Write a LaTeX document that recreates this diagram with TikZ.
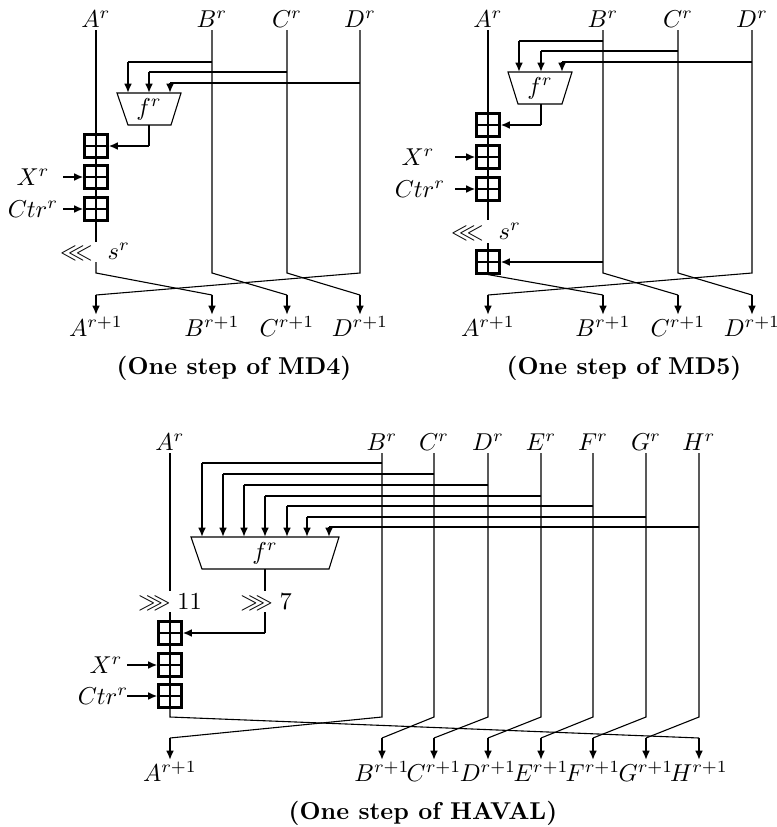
\documentclass[tikz,border=0pt]{standalone}
\usepackage{amssymb}
\usetikzlibrary{arrows.meta}
\begin{document}
\begin{tikzpicture}[x=0.41pt,y=-0.41pt,
 wire/.style={line width=0.45pt},
 arr/.style={line width=1pt,-{Latex[length=3.8pt,width=3.2pt]}},
 addbox/.style={draw,line width=1.1pt,fill=white,minimum size=9.2pt,inner sep=0pt,
   path picture={\draw[line width=0.45pt] (path picture bounding box.north)--(path picture bounding box.south) (path picture bounding box.west)--(path picture bounding box.east);}},
 toplbl/.style={anchor=south,inner sep=1pt},
 botlbl/.style={anchor=north,inner sep=0.5pt},
 captext/.style={font=\bfseries},
]
\useasboundingbox (0,0) rectangle (777,827);

% ================= MD4 =================
\foreach \n/\x in {A/96,B/212,C/287,D/360} {
  \node[toplbl] (m4\n) at (\x,30) {$\n^r$};
  \node[botlbl] (m4\n1) at (\x,315) {$\n^{r+1}$};
}
\node[addbox] (m4p1) at (96,146) {};
\node[addbox] (m4p2) at (96,177) {};
\node[addbox] (m4p3) at (96,209) {};
\node (m4X) at (33,177) {$X^r$};
\node (m4K) at (33,209) {$Ctr^r$};
\node (m4rot) at (95,252) {$\lll\ s^r$};
\draw[wire] (117,93) -- (181,93) -- (171,125) -- (128,125) -- cycle;
\node (m4f) at (149,109) {$f^r$};
\coordinate (m4fo) at (149,125);
% taps
\draw[wire] (212,62) -- (128,62); \draw[arr] (128,62) -- (128,93);
\draw[wire] (287,72) -- (149,72); \draw[arr] (149,72) -- (149,93);
\draw[wire] (360,83) -- (170,83); \draw[arr] (170,83) -- (170,93);
\draw[wire] (m4fo) -- (149,146); \draw[arr] (149,146) -- (m4p1.east);
\draw[arr] (63,177) -- (m4p2.west);
\draw[arr] (63,209) -- (m4p3.west);
% A path
\draw[wire] (m4A.south) -- (m4p1.north);
\draw[wire] (m4p1.south) -- (m4p2.north);
\draw[wire] (m4p2.south) -- (m4p3.north);
\draw[wire] (m4p3.south) -- (96,242);
\draw[wire] (96,262) -- (96,273) -- (212,295); \draw[arr] (212,295) -- (m4B1.north);
\draw[wire] (m4B.south) -- (212,273) -- (287,295); \draw[arr] (287,295) -- (m4C1.north);
\draw[wire] (m4C.south) -- (287,273) -- (360,295); \draw[arr] (360,295) -- (m4D1.north);
\draw[wire] (m4D.south) -- (360,273) -- (96,295); \draw[arr] (96,295) -- (m4A1.north);
\node[captext] (m4cap) at (234,368) {(One step of MD4)};

% ================= MD5 =================
\foreach \n/\x in {A/488,B/603,C/678,D/752} {
  \node[toplbl] (m5\n) at (\x,30) {$\n^r$};
  \node[botlbl] (m5\n1) at (\x,315) {$\n^{r+1}$};
}
\node[addbox] (m5p1) at (488,125) {};
\node[addbox] (m5p2) at (488,157) {};
\node[addbox] (m5p3) at (488,189) {};
\node[addbox] (m5p4) at (488,262) {};
\node (m5X) at (418,157) {$X^r$};
\node (m5K) at (420,189) {$Ctr^r$};
\node (m5rot) at (486,232) {$\lll\ s^r$};
\draw[wire] (508,72) -- (572,72) -- (562,104) -- (518,104) -- cycle;
\node (m5f) at (540,88) {$f^r$};
\draw[wire] (603,41) -- (519,41); \draw[arr] (519,41) -- (519,72);
\draw[wire] (678,51) -- (541,51); \draw[arr] (541,51) -- (541,72);
\draw[wire] (752,62) -- (562,62); \draw[arr] (562,62) -- (562,72);
\draw[wire] (541,104) -- (541,125); \draw[arr] (541,125) -- (m5p1.east);
\draw[arr] (455,157) -- (m5p2.west);
\draw[arr] (455,189) -- (m5p3.west);
\draw[arr] (603,262) -- (m5p4.east);
\draw[wire] (m5A.south) -- (m5p1.north);
\draw[wire] (m5p1.south) -- (m5p2.north);
\draw[wire] (m5p2.south) -- (m5p3.north);
\draw[wire] (m5p3.south) -- (488,220);
\draw[wire] (488,243) -- (m5p4.north);
\draw[wire] (m5p4.south) -- (603,295); \draw[arr] (603,295) -- (m5B1.north);
\draw[wire] (m5B.south) -- (603,273) -- (678,295); \draw[arr] (678,295) -- (m5C1.north);
\draw[wire] (m5C.south) -- (678,273) -- (752,295); \draw[arr] (752,295) -- (m5D1.north);
\draw[wire] (m5D.south) -- (752,273) -- (488,295); \draw[arr] (488,295) -- (m5A1.north);
\node[captext] (m5cap) at (624,368) {(One step of MD5)};

% ================= HAVAL =================
\foreach \n/\x in {A/170,B/382,C/434,D/488,E/541,F/593,G/646,H/699} {
  \node[toplbl] (hv\n) at (\x,453) {$\n^r$};
  \node[botlbl] (hv\n1) at (\x,760) {$\n^{r+1}$};
}
\node[addbox] (hvp1) at (170,633) {};
\node[addbox] (hvp2) at (170,665) {};
\node[addbox] (hvp3) at (170,696) {};
\node (hvX) at (106,665) {$X^r$};
\node (hvK) at (103,696) {$Ctr^r$};
\node (hvrotA) at (170,602) {$\ggg 11$};
\node (hvrotF) at (266,602) {$\ggg 7$};
\draw[wire] (191,537) -- (339,537) -- (329,569) -- (202,569) -- cycle;
\node (hvf) at (265,553) {$f^r$};
\foreach \n/\x/\y/\t in {B/382/463/202,C/434/474/223,D/488/485/244,E/541/496/265,F/593/506/287,G/646/517/307,H/699/527/329} {
  \draw[wire] (\x,\y) -- (\t,\y);
  \draw[arr] (\t,\y) -- (\t,537);
}
\draw[wire] (265,569) -- (265,591);
\draw[wire] (265,612) -- (265,633); \draw[arr] (265,633) -- (hvp1.east);
\draw[arr] (127,665) -- (hvp2.west);
\draw[arr] (127,696) -- (hvp3.west);
\draw[wire] (hvA.south) -- (170,591);
\draw[wire] (170,612) -- (hvp1.north);
\draw[wire] (hvp1.south) -- (hvp2.north);
\draw[wire] (hvp2.south) -- (hvp3.north);
\draw[wire] (hvp3.south) -- (170,717) -- (699,738); \draw[arr] (699,738) -- (hvH1.north);
\draw[wire] (hvB.south) -- (382,717) -- (170,738); \draw[arr] (170,738) -- (hvA1.north);
\draw[wire] (hvC.south) -- (434,717) -- (382,738); \draw[arr] (382,738) -- (hvB1.north);
\draw[wire] (hvD.south) -- (488,717) -- (434,738); \draw[arr] (434,738) -- (hvC1.north);
\draw[wire] (hvE.south) -- (541,717) -- (488,738); \draw[arr] (488,738) -- (hvD1.north);
\draw[wire] (hvF.south) -- (593,717) -- (541,738); \draw[arr] (541,738) -- (hvE1.north);
\draw[wire] (hvG.south) -- (646,717) -- (593,738); \draw[arr] (593,738) -- (hvF1.north);
\draw[wire] (hvH.south) -- (699,717) -- (646,738); \draw[arr] (646,738) -- (hvG1.north);
\node[captext] (hvcap) at (423,813) {(One step of HAVAL)};
\end{tikzpicture}
\end{document}
